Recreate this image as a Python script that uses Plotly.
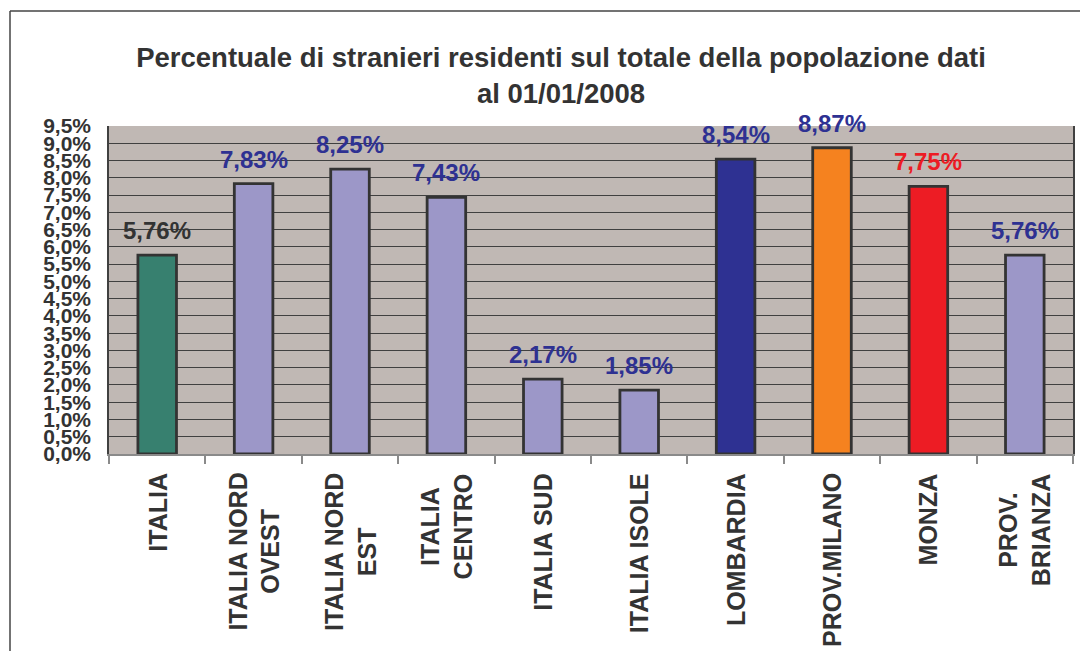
import plotly.graph_objects as go

categories = ["ITALIA", "ITALIA NORD OVEST", "ITALIA NORD EST", "ITALIA CENTRO", "ITALIA SUD",
              "ITALIA ISOLE", "LOMBARDIA", "PROV.MILANO", "MONZA", "PROV. BRIANZA"]
category_labels = ["ITALIA", "ITALIA NORD<br>OVEST", "ITALIA NORD<br>EST", "ITALIA<br>CENTRO", "ITALIA SUD",
                   "ITALIA ISOLE", "LOMBARDIA", "PROV.MILANO", "MONZA", "PROV.<br>BRIANZA"]
values = [5.76, 7.83, 8.25, 7.43, 2.17, 1.85, 8.54, 8.87, 7.75, 5.76]
value_labels = ["5,76%", "7,83%", "8,25%", "7,43%", "2,17%", "1,85%", "8,54%", "8,87%", "7,75%", "5,76%"]
bar_colors = ["#37806f", "#9c97c8", "#9c97c8", "#9c97c8", "#9c97c8", "#9c97c8",
              "#2e3192", "#f5821f", "#ed1c24", "#9c97c8"]
label_colors = ["#333333", "#2e3192", "#2e3192", "#2e3192", "#2e3192", "#2e3192",
                "#2e3192", "#2e3192", "#ed1c24", "#2e3192"]
y_tickvals = [0.0, 0.5, 1.0, 1.5, 2.0, 2.5, 3.0, 3.5, 4.0, 4.5, 5.0, 5.5, 6.0, 6.5, 7.0, 7.5, 8.0, 8.5, 9.0, 9.5]
y_ticktext = ["0,0%", "0,5%", "1,0%", "1,5%", "2,0%", "2,5%", "3,0%", "3,5%", "4,0%", "4,5%", "5,0%",
              "5,5%", "6,0%", "6,5%", "7,0%", "7,5%", "8,0%", "8,5%", "9,0%", "9,5%"]
title_text = "Percentuale di stranieri residenti sul totale della popolazione dati<br>al 01/01/2008"

# page has an 8px body margin, so the figure is sized/offset to compensate
W, H = 1080, 643
ML, MR, MT, MB = 101, 15, 118, 197
PW, PH = W - ML - MR, H - MT - MB

FONT = "Liberation Sans, Arial, sans-serif"

fig = go.Figure()
fig.add_trace(go.Bar(
    x=categories, y=values, width=0.4,
    marker=dict(color=bar_colors, line=dict(color="#333333", width=2.8)),
    hoverinfo="x+y", showlegend=False,
))

annotations = []
for c, v, t, col in zip(categories, values, value_labels, label_colors):
    annotations.append(dict(
        x=c, y=v, xref="x", yref="y", text=t, showarrow=False,
        yanchor="bottom", xanchor="center", yshift=9,
        font=dict(family=FONT, size=24, color=col, weight="bold"),
    ))
for c, lab in zip(categories, category_labels):
    annotations.append(dict(
        x=c, y=0, xref="x", yref="paper", text=lab, showarrow=False,
        textangle=-90, yanchor="top", xanchor="center", align="center", yshift=-17,
        font=dict(family=FONT, size=25, color="#333333", weight="bold"),
    ))

fx = (2 - ML) / PW
fy = 1 + (MT - 3) / PH
shapes = [
    dict(type="line", xref="paper", yref="paper", x0=fx, x1=fx, y0=-1.0, y1=fy,
         line=dict(color="#444444", width=1.5)),
    dict(type="line", xref="paper", yref="paper", x0=fx, x1=1.5, y0=fy, y1=fy,
         line=dict(color="#444444", width=1.5)),
]

fig.update_layout(
    width=W, height=H, autosize=False,
    margin=dict(l=ML, r=MR, t=MT, b=MB, pad=0),
    paper_bgcolor="white", plot_bgcolor="#c0b8b4",
    title=dict(text=title_text, x=553 / W, xanchor="center", xref="container",
               y=1 - 59 / H, yanchor="top", yref="container",
               font=dict(family=FONT, size=27.5, color="#333333", weight="bold")),
    annotations=annotations, shapes=shapes,
    xaxis=dict(showticklabels=False, showline=True, linecolor="#8a8a8a", linewidth=1.5,
               ticks="outside", tickson="boundaries", ticklen=8, tickcolor="#8a8a8a", tickwidth=1.5,
               showgrid=False, zeroline=False),
    yaxis=dict(range=[0, 9.5], tickvals=y_tickvals, ticktext=y_ticktext,
               showgrid=True, gridcolor="#404040", gridwidth=1.2, zeroline=False,
               showline=True, mirror=True, linecolor="#404040", linewidth=1.5,
               ticks="", ticklabelstandoff=12,
               tickfont=dict(family=FONT, size=21, color="#333333", weight="bold")),
)

fig.write_html("out.html")
